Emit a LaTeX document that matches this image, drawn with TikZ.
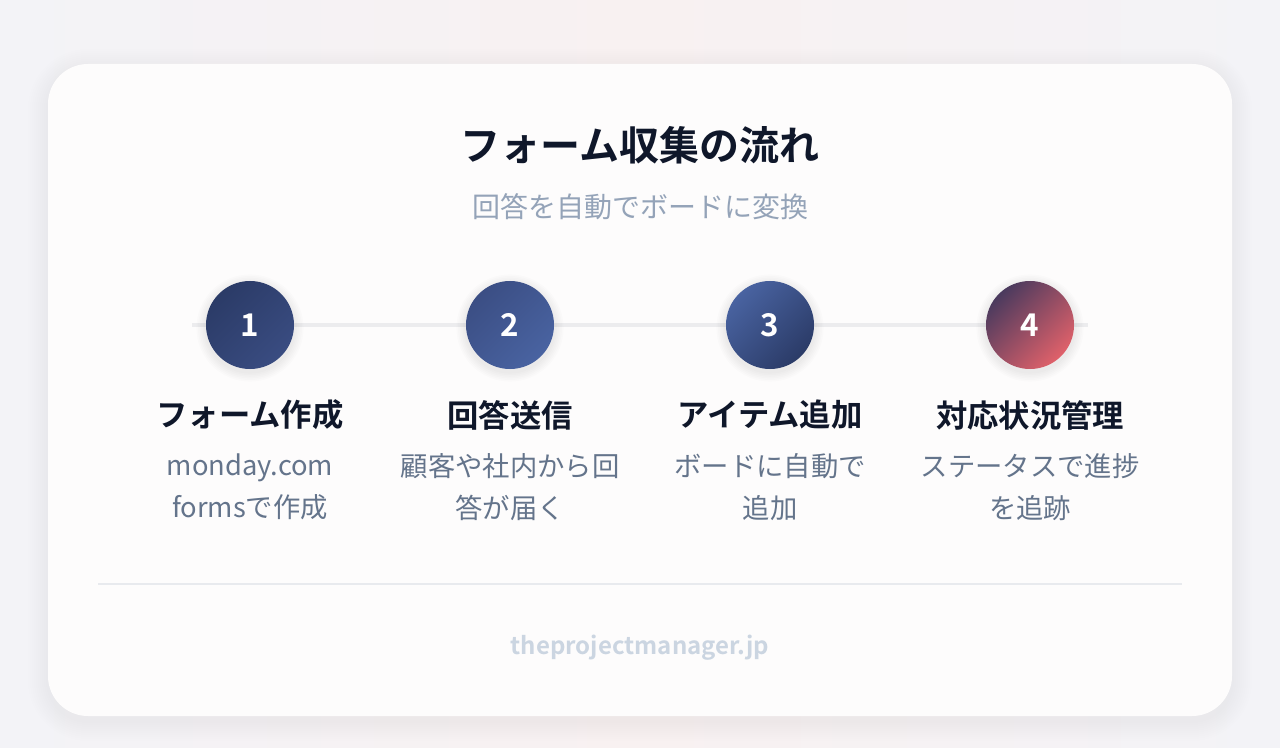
\documentclass[tikz,border=0pt]{standalone}
\usepackage{fontspec}
\setmainfont{Noto Sans CJK JP}[BoldFont={Noto Sans CJK JP Bold}]
\definecolor{bgc}{HTML}{F3F3F7}
\definecolor{bgpink}{HTML}{F8F1F1}
\definecolor{cardc}{HTML}{FDFCFC}
\definecolor{titlec}{HTML}{0F172A}
\definecolor{subc}{HTML}{94A3B8}
\definecolor{descc}{HTML}{64748B}
\definecolor{footc}{HTML}{CBD5E1}
\definecolor{linec}{HTML}{ECECEE}
\definecolor{divc}{HTML}{E8EAEE}
\definecolor{ca}{HTML}{2B3B67}
\definecolor{cb}{HTML}{3B4E84}
\definecolor{cc}{HTML}{4963A1}
\definecolor{cd}{HTML}{4A3A5E}
\definecolor{ce}{HTML}{E0616A}
\tikzset{
  stepcircle/.style={circle, minimum size=66pt, inner sep=0pt, text=white,
    font=\bfseries\fontsize{23.5}{26}\selectfont},
  steptitle/.style={text=titlec, font=\bfseries\fontsize{23.5}{28}\selectfont},
  stepdesc/.style={text=descc, align=center, font=\fontsize{20.5}{31.5}\selectfont},
  softshade/.style={fill=black, opacity=0.0045},
}
\begin{document}
\begin{tikzpicture}[x=0.75pt,y=-0.75pt]
\useasboundingbox (0,0) rectangle (1280,748);
\shade[left color=bgc, right color=bgc, middle color=bgpink] (0,0) rectangle (1280,748);
% card soft shadow
\foreach \i in {1,...,10}{
  \fill[softshade, rounded corners=30pt+1.5*\i pt] (48-2*\i,64-2*\i+5) rectangle (1232+2*\i,716+2*\i+5);
}
\fill[cardc, rounded corners=30pt] (48,64) rectangle (1232,716);
\node[text=titlec, font=\bfseries\fontsize{30}{36}\selectfont] (title) at (640,145) {フォーム収集の流れ};
\node[text=subc, font=\fontsize{21}{26}\selectfont] (sub) at (640,207) {回答を自動でボードに変換};
\coordinate (ls) at (192,325);
\coordinate (le) at (1088,325);
\draw[linec, line width=3pt] (ls) -- (le);
% circle soft shadows
\foreach \cx in {250,510,770,1030}{
  \foreach \i in {1,...,6}{
    \fill[fill=black, opacity=0.011] (\cx,328) circle ({44+1.6*\i});
  }
}
\node[stepcircle, top color=ca, bottom color=cb!90!ca, shading angle=45] (c1) at (250,325) {1};
\node[stepcircle, top color=cb, bottom color=cc, shading angle=45] (c2) at (510,325) {2};
\node[stepcircle, top color=cc, bottom color=ca, shading angle=45] (c3) at (770,325) {3};
\node[stepcircle, top color=cd, bottom color=ce, shading angle=45] (c4) at (1030,325) {4};
\node[steptitle] (t1) at (250,415) {フォーム作成};
\node[steptitle] (t2) at (510,415) {回答送信};
\node[steptitle] (t3) at (770,415) {アイテム追加};
\node[steptitle] (t4) at (1030,415) {対応状況管理};
\node[stepdesc] (d1) at (250,487) {monday.com\\formsで作成};
\node[stepdesc] (d2) at (510,487) {顧客や社内から回\\答が届く};
\node[stepdesc] (d3) at (770,487) {ボードに自動で\\追加};
\node[stepdesc] (d4) at (1030,487) {ステータスで進捗\\を追跡};
\coordinate (dv1) at (98,584);
\coordinate (dv2) at (1182,584);
\draw[divc, line width=1.5pt] (dv1) -- (dv2);
\node[text=footc, font=\bfseries\fontsize{18}{22}\selectfont] (foot) at (640,648) {theprojectmanager.jp};
\end{tikzpicture}
\end{document}
